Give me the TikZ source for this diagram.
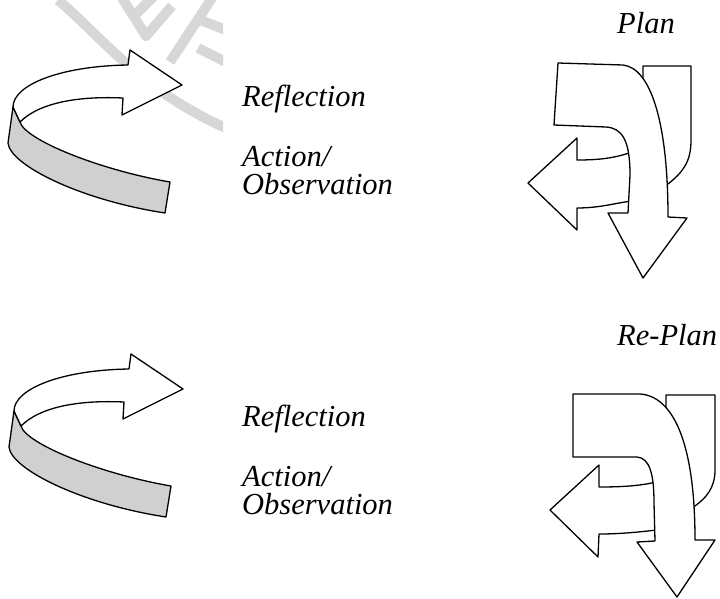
\documentclass[tikz,border=0pt]{standalone}
\usepackage{fontspec}
\setmainfont{Liberation Serif}[ItalicFont={Liberation Serif Italic}]
\definecolor{ribgray}{RGB}{208,208,208}
\definecolor{wmgray}{RGB}{215,215,215}
\begin{document}
\begin{tikzpicture}[x=1pt,y=-1pt, line join=round,
  shp/.style={draw=black, line width=1.3pt, fill=white},
  rib/.style={draw=black, line width=1.3pt, fill=ribgray},
  lbl/.style={anchor=base west, inner sep=0pt, font=\fontsize{30.5}{35}\selectfont\itshape},
  wm/.style={draw=wmgray, line width=10pt}]
\useasboundingbox (0,0) rectangle (720,598);
% faint watermark
\begin{scope}
  \clip (0,0) rectangle (223,140);
  \draw[wm] (58,0) .. controls (100,35) and (140,90) .. (226,128);
  \draw[wm] (122,-2) -- (146,36) -- (172,6);
  \draw[wm] (134,16) -- (156,-6);
  \draw[wm] (170,62) -- (212,-2);
  \draw[wm] (200,20) -- (226,30);
  \draw[wm] (198,48) -- (226,62);
\end{scope}
% curled arrows (left)
\foreach \dx/\dy in {0/0, 1/304}{
\begin{scope}[shift={(\dx,\dy)}]
  \draw[rib] (13,107) -- (8,143) .. controls (10,165) and (80,200) .. (165,213)
     -- (170,182) .. controls (100,170) and (25,140) .. (20,122) -- cycle;
  \draw[shp] (13,107) .. controls (13,85) and (60,66) .. (128,65) -- (130,50)
     -- (182,85) -- (122,115) -- (123,98) .. controls (80,96) and (40,102) .. (20,122) -- cycle;
\end{scope}}
% Plan shape (top right)
\draw[shp] (643,66) -- (691,66) -- (691,140) .. controls (691,162) and (683,172) .. (668,184) -- (643,184) -- cycle;
\draw[shp] (528,183) -- (577,138) -- (577,160) .. controls (600,160) and (615,158) .. (632,152)
   -- (632,201) .. controls (615,203) and (600,208) .. (577,208) -- (577,230) -- cycle;
\draw[shp] (558,63) -- (623,65) .. controls (650,68) and (668,120) .. (668,217) -- (687,218)
   -- (643,278) -- (608,213) -- (628,213) -- (630,175) .. controls (630,140) and (622,128) .. (606,127)
   -- (554,125) -- cycle;
% Re-Plan shape (bottom right)
\draw[shp] (666,395) -- (715,395) -- (715,470) .. controls (715,488) and (706,498) .. (695,506) -- (666,506) -- cycle;
\draw[shp] (550,510) -- (599,465) -- (599,487) .. controls (620,487) and (640,486) .. (656,482)
   -- (656,530) .. controls (640,532) and (620,534) .. (599,534) -- (598,557) -- cycle;
\draw[shp] (573,394) -- (640,394) .. controls (672,396) and (695,440) .. (695,540) -- (715,540)
   -- (677,597) -- (637,542) -- (655,541) -- (654,503) .. controls (654,475) and (650,458) .. (637,457)
   -- (573,457) -- cycle;
% labels
\node[lbl] (plan) at (617,33) {Plan};
\node[lbl] (replan) at (617,345) {Re-Plan};
\node[lbl] (refl1) at (242,106) {Reflection};
\node[lbl] (act1) at (242,166) {Action/};
\node[lbl] (obs1) at (242,194) {Observation};
\node[lbl] (refl2) at (242,426) {Reflection};
\node[lbl] (act2) at (242,486) {Action/};
\node[lbl] (obs2) at (242,514) {Observation};
\end{tikzpicture}
\end{document}
